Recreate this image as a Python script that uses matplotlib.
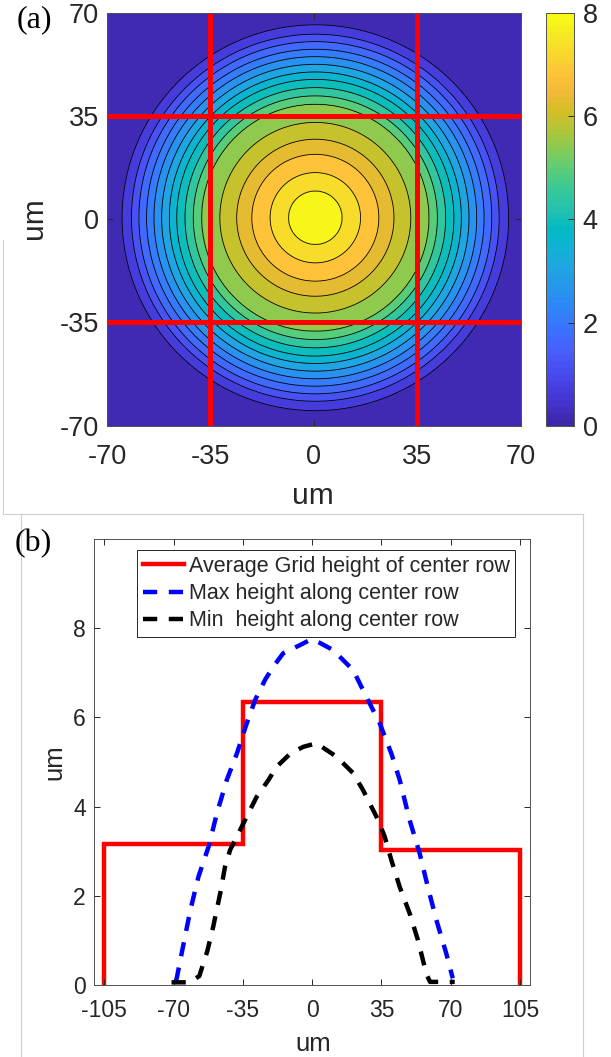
import numpy as np
import matplotlib
matplotlib.use("Agg")
import matplotlib.pyplot as plt
from matplotlib.colors import LinearSegmentedColormap, Normalize
from matplotlib.cm import ScalarMappable
from matplotlib.lines import Line2D

plt.rcParams.update({
    "font.family": ["Liberation Sans", "DejaVu Sans"],
    "axes.unicode_minus": False,
    "text.color": "#262626",
    "axes.labelcolor": "#262626",
    "xtick.color": "#262626",
    "ytick.color": "#262626",
})

# ── data ──────────────────────────────────────────────────────────────────────
# panel (a): radial height profile of the dome, read off the contour rings
prof_r = [0.0, 9.1, 15.3, 21.5, 26.6, 32.3, 38.5, 41.3, 44.1, 46.9, 49.4,
          52.0, 54.6, 57.1, 59.7, 62.2, 65.4, 68.0, 120.0]
prof_h = [7.8, 7.52, 7.05, 6.58, 6.11, 5.64, 5.17, 4.70, 4.23, 3.76, 3.29,
          2.82, 2.35, 1.88, 1.41, 0.94, 0.47, 0.10, 0.0]
dome_center = (0.5, 0.5)
contour_levels = [0.47, 0.94, 1.41, 1.88, 2.35, 2.82, 3.29, 3.76, 4.23, 4.70,
                  5.17, 5.64, 6.11, 6.58, 7.05, 7.52]
grid_lines = [-35, 35]

# panel (b): center-row profiles
grid_edges = [-105, -35, 35, 105]
grid_height = [3.17, 6.35, 3.02]

max_x = [-68.8, -68.2, -64.9, -61.5, -57.4, -52.3, -48.1, -43.1, -38.0, -33.0,
         -28.8, -23.8, -19.6, -14.6, -6.2, -0.5, 3.9, 10.6, 20.7, 27.4, 34.1,
         40.0, 44.2, 49.2, 54.3, 58.4, 62.7, 67.7, 71.0]
max_h = [0.08, 0.19, 0.93, 1.68, 2.43, 3.10, 3.85, 4.60, 5.19, 5.87,
         6.39, 6.84, 7.14, 7.44, 7.62, 7.75, 7.67, 7.51, 7.06, 6.46, 5.87,
         5.19, 4.60, 3.70, 2.95, 2.20, 1.46, 0.71, 0.15]

min_x = [-71.0, -62.0, -57.0, -53.0, -50.0, -46.4, -44.0, -41.4, -37.2, -32.2,
         -28.0, -22.0, -18.0, -11.0, -4.5, 2.2, 12.3, 20.7, 25.7, 29.9, 33.3,
         36.6, 40.0, 44.2, 49.2, 53.4, 57.6, 59.5, 65.0, 72.0]
min_h = [0.06, 0.06, 0.20, 0.75, 1.30, 2.06, 2.65, 3.03, 3.40, 3.85,
         4.22, 4.60, 4.89, 5.19, 5.34, 5.42, 5.12, 4.75, 4.37, 4.00, 3.70,
         3.33, 2.80, 2.20, 1.61, 1.01, 0.26, 0.07, 0.07, 0.07]

x_ticks_a = [-70, -35, 0, 35, 70]
cb_ticks = [0, 2, 4, 6, 8]
x_ticks_b = [-105, -70, -35, 0, 35, 70, 105]
y_ticks_b = [0, 2, 4, 6, 8]

# MATLAB parula (every 3rd entry of the 64-colour table)
PARULA = [
    (0.2422, 0.1504, 0.6603), (0.2647, 0.1978, 0.7952), (0.2783, 0.2559, 0.8991),
    (0.2810, 0.3228, 0.9579), (0.2699, 0.3892, 0.9906), (0.2206, 0.4603, 0.9973),
    (0.1786, 0.5289, 0.9682), (0.1540, 0.5902, 0.9218), (0.1248, 0.6459, 0.8883),
    (0.0689, 0.6948, 0.8394), (0.0067, 0.7312, 0.7660), (0.1408, 0.7584, 0.6842),
    (0.2161, 0.7843, 0.5923), (0.3406, 0.8008, 0.4789), (0.5044, 0.7993, 0.3480),
    (0.6720, 0.7793, 0.2227), (0.8203, 0.7498, 0.1535), (0.9393, 0.7288, 0.2100),
    (0.9970, 0.7659, 0.2199), (0.9786, 0.8386, 0.1766), (0.9597, 0.9135, 0.1423),
    (0.9769, 0.9839, 0.0805),
]
parula = LinearSegmentedColormap.from_list("parula", PARULA, N=64)
norm = Normalize(0, 8)

W, H = 611, 1057
fig = plt.figure(figsize=(W / 100, H / 100), dpi=100)


def rect(l, t, r, b):
    return [l / W, 1 - b / H, (r - l) / W, (b - t) / H]


def style_axes(ax, size, pad_x, pad_y):
    for s in ax.spines.values():
        s.set_color("#505050")
        s.set_linewidth(0.7)
    ax.tick_params(direction="in", top=True, right=True, length=4,
                   width=0.7, labelsize=size)
    ax.tick_params(axis="x", pad=pad_x)
    ax.tick_params(axis="y", pad=pad_y)


# ── panel (a) ─────────────────────────────────────────────────────────────────
axa = fig.add_axes(rect(107, 12.7, 520.7, 425.7))
xs = np.linspace(-70, 70, 401)
X, Y = np.meshgrid(xs, xs)
R = np.hypot(X - dome_center[0], Y - dome_center[1])
Z = np.interp(R, prof_r, prof_h)

lev = [-0.01] + contour_levels + [8.0]
axa.contourf(X, Y, Z, levels=lev, cmap=parula, norm=norm)
axa.contour(X, Y, Z, levels=contour_levels, colors="k", linewidths=0.6)
for v in grid_lines:
    axa.axvline(v, color="#ff0000", lw=3.6)
    axa.axhline(v, color="#ff0000", lw=3.6)
axa.set_xlim(-70, 70)
axa.set_ylim(-70, 70)
axa.set_xticks(x_ticks_a)
axa.set_yticks(x_ticks_a)
style_axes(axa, 19.5, 13, 6)
fig.text(313 / W, 1 - 496 / H, "um", fontsize=21.5, ha="center", va="center",
         color="#262626")
fig.text(34 / W, 1 - 218 / H, "um", fontsize=21.5, ha="center", va="center",
         rotation=90, color="#262626")
fig.text(17 / W, 1 - 20 / H, "(a)", fontsize=23, ha="left", va="center",
         family="Liberation Serif", color="black")

cax = fig.add_axes(rect(546, 12.7, 574.3, 426))
cb = fig.colorbar(ScalarMappable(norm=norm, cmap=parula), cax=cax, ticks=cb_ticks)
cb.outline.set_edgecolor("#505050")
cb.outline.set_linewidth(0.7)
cax.tick_params(direction="in", length=4, width=0.7, labelsize=19.5, pad=6)

# ── panel (b) ─────────────────────────────────────────────────────────────────
axb = fig.add_axes(rect(94.3, 539, 530, 985))
axb.stairs(grid_height, grid_edges, baseline=0, color="#ff0000", lw=3.2,
           label="Average Grid height of center row")
axb.plot(max_x, max_h, color="#0000ff", lw=3.2, ls=(0, (3.2, 2.6)),
         label="Max height along center row")
axb.plot(min_x, min_h, color="black", lw=3.2, ls=(0, (3.2, 2.6)),
         label="Min  height along center row")
axb.set_xlim(-110, 110)
axb.set_ylim(0, 10)
axb.set_xticks(x_ticks_b)
axb.set_yticks(y_ticks_b)
style_axes(axb, 16.5, 10, 6)
fig.text(313 / W, 1 - 1044 / H, "um", fontsize=18.5, ha="center", va="center",
         color="#262626")
fig.text(54.6 / W, 1 - 762 / H, "um", fontsize=18.5, ha="center", va="center",
         rotation=90, color="#262626")
fig.text(15 / W, 1 - 544 / H, "(b)", fontsize=23, ha="left", va="center",
         family="Liberation Serif", color="black")

leg = axb.legend(loc="upper left", bbox_to_anchor=(137.3 / W, 1 - 550 / H),
                 bbox_transform=fig.transFigure, borderaxespad=0,
                 fontsize=15.5, handlelength=1.9, handletextpad=0.2,
                 labelspacing=0.28, borderpad=0.28, fancybox=False,
                 framealpha=1)
leg.get_frame().set_edgecolor("#262626")
leg.get_frame().set_linewidth(0.7)

# light frames of the two pasted panels
frame = dict(color="#d0d0d0", lw=0.8, transform=fig.transFigure)
fig.add_artist(Line2D([3 / W, 3 / W], [1 - 240 / H, 1 - 514 / H], **frame))
fig.add_artist(Line2D([3 / W, 583 / W], [1 - 514 / H, 1 - 514 / H], **frame))
fig.add_artist(Line2D([20.7 / W, 20.7 / W], [1 - 514 / H, 0], **frame))
fig.add_artist(Line2D([583 / W, 583 / W], [1 - 514 / H, 0], **frame))

fig.savefig("out.png", dpi=100)
